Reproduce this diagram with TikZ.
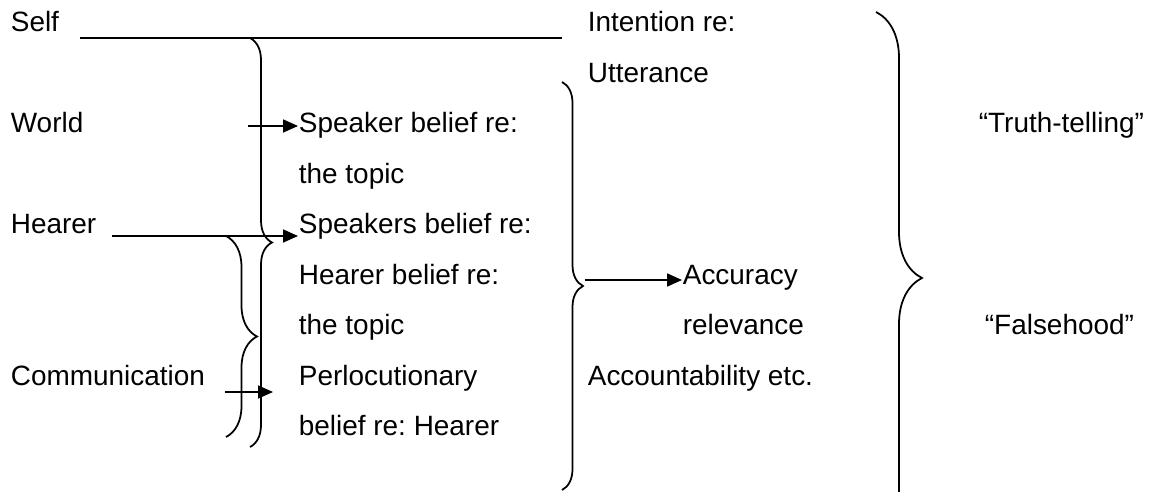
\documentclass[tikz,border=0pt]{standalone}
\usepackage{fontspec}
\setmainfont{Liberation Sans}
\usetikzlibrary{arrows.meta,decorations.pathreplacing}
\frenchspacing

\tikzset{
  txt/.style={anchor=base west, inner sep=0pt, font=\fontsize{15.9}{19}\selectfont},
  arr/.style={-{Triangle[length=0.3cm,width=0.26cm]}},
  curly/.style={decorate, decoration={brace, amplitude=#1}},
}

\begin{document}
\begin{tikzpicture}[x=0.02cm, y=-0.02cm, line width=1pt]
  \useasboundingbox (0,0) rectangle (1151,492);

  \node[txt] (self) at (10,32) {Self};
  \node[txt] (world) at (10,133) {World};
  \node[txt] (hearer) at (10,234) {Hearer};
  \node[txt] (comm) at (10,385.5) {Communication};

  \node[txt] (spk) at (298,133) {Speaker belief re:};
  \node[txt] (topa) at (298,183.5) {the topic};
  \node[txt] (spks) at (298,234) {Speakers belief re:};
  \node[txt] (hbel) at (298,284.5) {Hearer belief re:};
  \node[txt] (topb) at (298,335) {the topic};
  \node[txt] (perl) at (298,385.5) {Perlocutionary};
  \node[txt] (perlb) at (298,436) {belief re: Hearer};

  \node[txt] (inten) at (587,32) {Intention re:};
  \node[txt] (utt) at (587,82.5) {Utterance};
  \node[txt] (acc) at (682,284.5) {Accuracy};
  \node[txt] (rel) at (682,335) {relevance};
  \node[txt] (acct) at (587,385.5) {Accountability etc.};

  \node[txt] (truth) at (978,133) {“Truth-telling”};
  \node[txt] (false) at (984,335) {“Falsehood”};

  \coordinate (selfa) at (80,38);
  \coordinate (selfb) at (562,38);
  \coordinate (worlda) at (248,126);
  \coordinate (hearera) at (112,236);
  \coordinate (comma) at (225,392);
  \coordinate (commb) at (273,392);
  \coordinate (acca) at (585,280);

  \draw (selfa) -- (selfb);
  \draw[arr] (worlda) -- (spk.west |- worlda);
  \draw[arr] (hearera) -- (spks.west |- hearera);
  \draw[arr] (comma) -- (commb);
  \draw[arr] (acca) -- (acc.west |- acca);

  \draw[curly=0.44cm] (250,38) -- (250,447);
  \draw[curly=0.62cm] (226,236) -- (226,437);
  \draw[curly=0.42cm] (562,82) -- (562,490);
  \begin{scope}
    \clip (0,0) rectangle (1151,492);
    \draw[curly=0.92cm] (876,12) -- (876,544);
  \end{scope}

\end{tikzpicture}
\end{document}
